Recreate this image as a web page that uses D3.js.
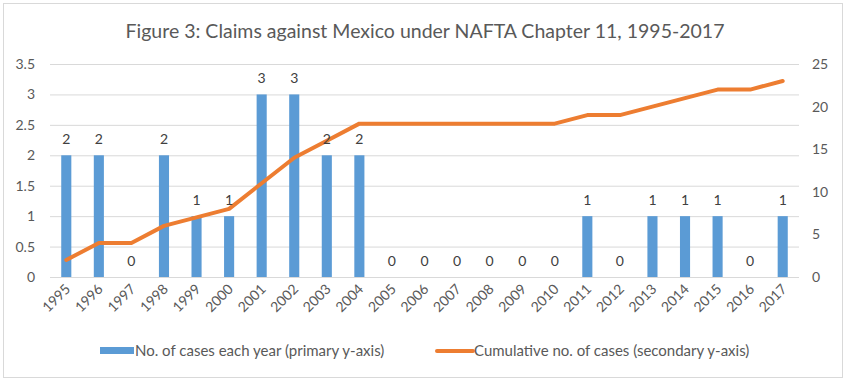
<!DOCTYPE html>
<html>
<head>
<meta charset="utf-8">
<script src="https://cdn.jsdelivr.net/npm/d3@7"></script>
<style>
  body { margin: 0; background: #fff; }
  svg text { font-family: Lato, "Open Sans", sans-serif; fill: #595959; }
</style>
</head>
<body>
<div id="chart"></div>
<script>
// data
const years = ["1995","1996","1997","1998","1999","2000","2001","2002","2003","2004","2005","2006",
    "2007","2008","2009","2010","2011","2012","2013","2014","2015","2016","2017"];
const casesPerYear = [2,2,0,2,1,1,3,3,2,2,0,0,0,0,0,0,1,0,1,1,1,0,1];
const cumulative = [2,4,4,6,7,8,11,14,16,18,18,18,18,18,18,18,19,19,20,21,22,22,23];
const leftTicks = [0,0.5,1,1.5,2,2.5,3,3.5];
const rightTicks = [0,5,10,15,20,25];
const titleText = "Figure 3: Claims against Mexico under NAFTA Chapter 11, 1995-2017";
const legendLabels = ["No. of cases each year (primary y-axis)", "Cumulative no. of cases (secondary y-axis)"];

const W = 850, H = 384;
const margin = { top: 64, right: 51, bottom: 107, left: 50 };
const width = W - margin.left - margin.right,
    height = H - margin.top - margin.bottom;

const root = d3.select("#chart").append("svg")
    .attr("width", W)
    .attr("height", H);

// outer frame
root.append("rect")
    .attr("x", 3.5).attr("y", 3.5)
    .attr("width", 839).attr("height", 374)
    .attr("fill", "#fff")
    .attr("stroke", "#d9d9d9");

root.append("text")
    .attr("x", W / 2)
    .attr("y", 38)
    .attr("text-anchor", "middle")
    .style("font-size", "19.5px")
    .text(titleText);

const svg = root.append("g")
    .attr("transform", `translate(${margin.left},${margin.top})`);

const x = d3.scaleBand().domain(years).range([0, width]).paddingInner(0.69).paddingOuter(0.345);
const xc = d => x(d) + x.bandwidth() / 2;
const yL = d3.scaleLinear().domain([0, 3.5]).range([height, 0]);
const yR = d3.scaleLinear().domain([0, 25]).range([height, 0]);

// gridlines
svg.append("g")
    .call(d3.axisLeft(yL).tickValues(leftTicks).tickSize(-width).tickFormat(""))
    .call(g => g.select(".domain").remove())
    .selectAll("line").attr("stroke", "#d9d9d9");

// left axis labels
svg.append("g")
    .call(d3.axisLeft(yL).tickValues(leftTicks).tickSize(0).tickPadding(15).tickFormat(d => String(d)))
    .call(g => g.select(".domain").remove())
    .selectAll("text")
    .style("font-size", "14px")
    .style("fill", "#595959");

// right axis labels
svg.append("g")
    .attr("transform", `translate(${width},0)`)
    .call(d3.axisRight(yR).tickValues(rightTicks).tickSize(0).tickPadding(13))
    .call(g => g.select(".domain").remove())
    .selectAll("text")
    .style("font-size", "14px")
    .style("fill", "#595959");

// bars
svg.selectAll(".bar")
    .data(years)
    .enter().append("rect")
    .attr("class", "bar")
    .attr("x", d => x(d))
    .attr("width", x.bandwidth())
    .attr("y", (d, i) => yL(casesPerYear[i]))
    .attr("height", (d, i) => height - yL(casesPerYear[i]))
    .attr("fill", "#5b9bd5");

// baseline
svg.append("line")
    .attr("x1", 0).attr("x2", width)
    .attr("y1", height + 0.5).attr("y2", height + 0.5)
    .attr("stroke", "#d9d9d9");

// cumulative line
svg.append("path")
    .datum(cumulative)
    .attr("fill", "none")
    .attr("stroke", "#ed7d31")
    .attr("stroke-width", 4)
    .attr("stroke-linejoin", "round")
    .attr("stroke-linecap", "round")
    .attr("d", d3.line().x((d, i) => xc(years[i])).y(d => yR(d)));

// data labels
svg.selectAll(".lbl")
    .data(years)
    .enter().append("text")
    .attr("class", "lbl")
    .attr("x", d => xc(d))
    .attr("y", (d, i) => yL(casesPerYear[i]) - 11)
    .attr("text-anchor", "middle")
    .style("font-size", "14px")
    .style("fill", "#404040")
    .text((d, i) => casesPerYear[i]);

// x axis labels
svg.append("g")
    .attr("transform", `translate(0,${height})`)
    .call(d3.axisBottom(x).tickSize(0).tickPadding(0))
    .call(g => g.select(".domain").remove())
    .selectAll("text")
    .attr("text-anchor", "end")
    .attr("dy", 0)
    .attr("transform", d => "translate(5,13) rotate(-45)")
    .style("font-size", "14px")
    .style("fill", "#595959");

// legend
const leg = root.append("g");
leg.append("rect")
    .attr("x", 100).attr("y", 347)
    .attr("width", 34).attr("height", 7)
    .attr("fill", "#5b9bd5");
leg.append("text")
    .attr("x", 135).attr("y", 356)
    .style("font-size", "15px")
    .text(legendLabels[0]);
leg.append("line")
    .attr("x1", 437).attr("x2", 473)
    .attr("y1", 351).attr("y2", 351)
    .attr("stroke", "#ed7d31")
    .attr("stroke-width", 4)
    .attr("stroke-linecap", "round");
leg.append("text")
    .attr("x", 474).attr("y", 356)
    .style("font-size", "15px")
    .text(legendLabels[1]);
</script>
</body>
</html>
